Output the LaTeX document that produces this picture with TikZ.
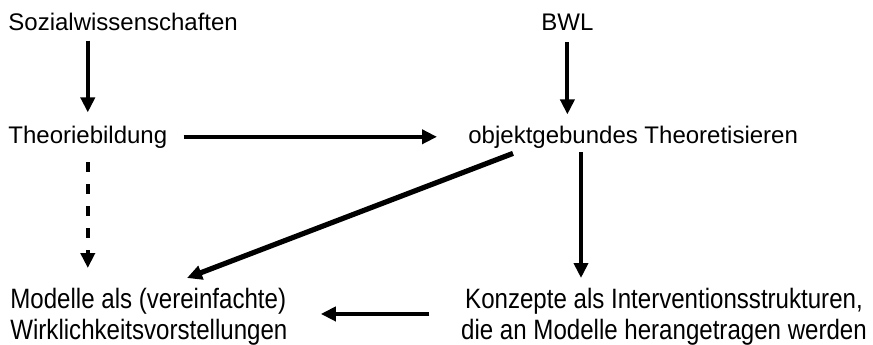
\documentclass[tikz,border=0pt]{standalone}
\usepackage{fontspec}
\setmainfont{Liberation Sans}
\newfontfamily\schmal[FakeStretch=0.86]{Liberation Sans}
\usetikzlibrary{arrows.meta}

\begin{document}
\begin{tikzpicture}[x = 0.5pt, y = -0.5pt]
\tikzstyle{TextStyle}=[inner sep = 0pt,
                       font = \fontsize{12}{14}\selectfont]
\tikzstyle{UntenStyle}=[inner sep = 0pt,
                        font = \schmal\fontsize{14}{15.5}\selectfont]
\tikzstyle{PfeilStyle}=[line width = 2pt,
                        -{Triangle[length = 7.5pt, width = 7pt]}]
\useasboundingbox (0,0) rectangle (873,344);
\node[TextStyle, anchor = base west] (soz) at (8,30) {Sozialwissenschaften};
\node[TextStyle, anchor = base west] (bwl) at (541,30) {BWL};
\node[TextStyle, anchor = base west] (theo) at (8,143) {Theoriebildung};
\node[TextStyle, anchor = base west] (obj) at (468,143) {objektgebundes Theoretisieren};
\node[UntenStyle, anchor = north west, align = left] (mod) at (10,288) {Modelle als (vereinfachte)\\Wirklichkeitsvorstellungen};
\node[UntenStyle, anchor = north, align = center] (konz) at (664,288) {Konzepte als Interventionsstrukturen,\\die an Modelle herangetragen werden};
\coordinate (abzw) at ([xshift = 56.5pt]obj.south west);
\draw[PfeilStyle, shorten <= 5pt, shorten >= 6.4pt] (soz.south -| theo.north) -- (theo.north);
\draw[PfeilStyle, shorten <= 6pt, shorten >= 5.4pt] (bwl.south) -- (bwl.south |- obj.north);
\draw[PfeilStyle, shorten <= 8pt, shorten >= 15.5pt] (theo.east) -- (obj.west);
\draw[PfeilStyle, dash pattern = on 5pt off 6pt, shorten <= 7pt, shorten >= 10pt] (theo.south) -- (theo.south |- mod.north);
\draw[PfeilStyle, line width = 2.6pt] ([xshift = 22.5pt, yshift = -2.5pt]obj.south west) -- ([xshift = 88.5pt, yshift = 5pt]mod.north west);
\draw[PfeilStyle, shorten <= 2pt, shorten >= 5pt] (abzw) -- (abzw |- konz.north);
\draw[PfeilStyle, shorten <= 15.75pt] ([yshift = 1.5pt]konz.west) -- ([xshift = 16.5pt, yshift = 1.5pt]mod.east);
\end{tikzpicture}
\end{document}
